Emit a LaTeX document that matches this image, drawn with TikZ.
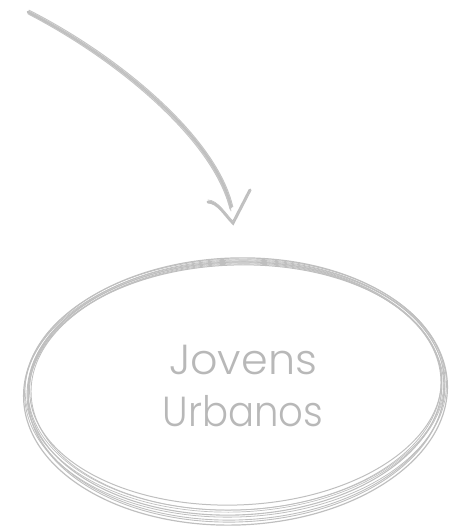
\documentclass[tikz,border=0pt]{standalone}
\usepackage{fontspec}
\setmainfont{Poppins Light}
\usetikzlibrary{calc}
\begin{document}
\begin{tikzpicture}[x=1pt,y=1pt,
  sketch/.style={draw=black!25, line width=1pt, line cap=round},
  thin/.style={draw=black!23, line width=0.7pt, line cap=round},
  label/.style={text=black!28, font=\fontsize{42}{52}\selectfont, align=center, inner sep=0pt}]
\useasboundingbox (0,0) rectangle (451,529);
% target node
\node[label] (jov) at (243,143) {\scalebox{1.02}[1]{Jovens}\\\scalebox{0.92}[1]{Urbanos}};
% sketchy ellipse around the node: cy(px) / ry / cx / rx / width
\foreach \cy/\ry/\cx/\rx/\w in {391.5/133.5/235.5/212/1.2, 390/130/236/209/0.9, 388.5/126.5/235/207/1.1, 387/123/236/205/0.8, 385/120/235.5/206/1.0, 385.5/126.5/235/210/0.7, 392.5/129.5/236/208/0.9, 389/128/235.5/211/0.8, 386/124/236/208/0.7}{
  \draw[sketch, line width=\w pt, rotate around={2:(235.5,529-\cy)}] (\cx,529-\cy) ellipse ({\rx} and {\ry});
}
% arrow
\coordinate (s) at (28,517);
\coordinate (t) at (231,322);
\coordinate (tip) at (233,306);
\coordinate (la) at (208,327);
\coordinate (ra) at (250,339);
\draw[sketch, line width=2.8pt] (s) .. controls (120,470) and (215,390) .. (t);
\draw[thin, line width=1pt] ($(s)+(1,1.8)$) .. controls (121,472) and (217,391) .. ($(t)+(1.8,0)$);
\draw[thin, line width=1pt] ($(s)+(0,-1.8)$) .. controls (119,468) and (213,389) .. ($(t)+(-1,-2)$);
\draw[thin, line width=0.8pt] ($(s)+(2,0)$) .. controls (122,469) and (216,388) .. ($(t)+(0,-4)$);
\draw[sketch, line width=3pt] (la) .. controls ($(la)+(10,0)$) and ($(tip)+(-8,8)$) .. (tip) -- (ra);
\draw[thin] ($(la)+(0,2)$) .. controls ($(la)+(10,2)$) and ($(tip)+(-8,9)$) .. ($(tip)+(0,1)$) -- ($(ra)+(1,0)$);
\end{tikzpicture}
\end{document}
